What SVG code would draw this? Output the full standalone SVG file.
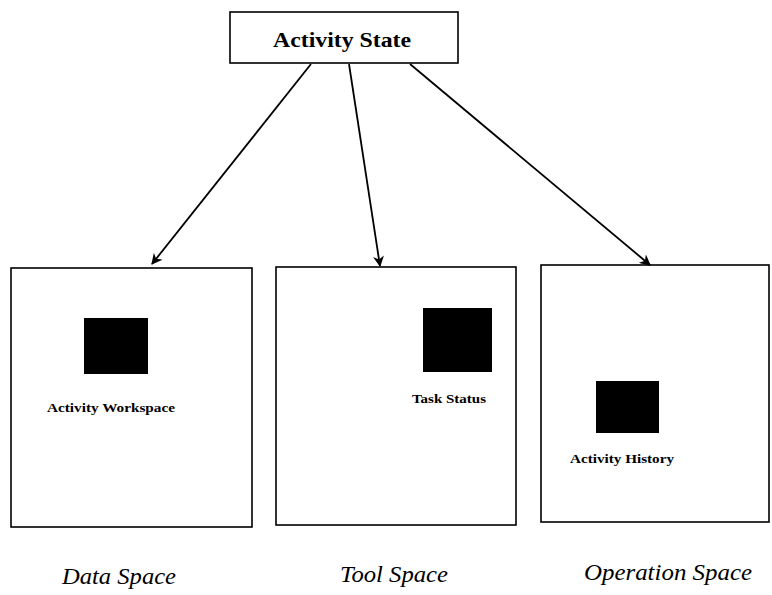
<svg xmlns="http://www.w3.org/2000/svg" width="772" height="595" viewBox="0 0 772 595">
  <style>
    .frame { fill: #fff; stroke: #000; stroke-width: 1.6; }
    .block { fill: #000; }
    .title { font-family: "Liberation Serif", serif; font-weight: bold; font-size: 20px; }
    .item { font-family: "Liberation Serif", serif; font-weight: bold; font-size: 12.5px; }
    .space { font-family: "Liberation Serif", serif; font-style: italic; font-size: 23px; }
    .link { stroke: #000; stroke-width: 1.8; fill: none; marker-end: url(#head); }
  </style>
  <defs>
    <marker id="head" viewBox="0 0 10 10" refX="9" refY="5" markerWidth="11" markerHeight="11" markerUnits="userSpaceOnUse" orient="auto">
      <path d="M0,0 L10,5 L0,10 L3,5 Z" fill="#000"/>
    </marker>
  </defs>
  <rect width="772" height="595" fill="#fff"/>

  <g id="activity-state">
    <rect class="frame" x="230" y="12" width="228" height="51" stroke-width="2.2"/>
    <text class="title" x="273" y="47" textLength="138" lengthAdjust="spacingAndGlyphs">Activity State</text>
  </g>

  <g id="data-space">
    <rect class="frame" x="11" y="268" width="241" height="259"/>
    <rect class="block" x="84" y="318" width="64" height="56"/>
    <text class="item" x="47" y="412" textLength="128" lengthAdjust="spacingAndGlyphs">Activity Workspace</text>
    <text class="space" x="62" y="584" textLength="114" lengthAdjust="spacingAndGlyphs">Data Space</text>
  </g>

  <g id="tool-space">
    <rect class="frame" x="276" y="267" width="240" height="258"/>
    <rect class="block" x="423" y="308" width="69" height="64"/>
    <text class="item" x="412" y="403" textLength="74" lengthAdjust="spacingAndGlyphs">Task Status</text>
    <text class="space" x="340" y="582" textLength="108" lengthAdjust="spacingAndGlyphs">Tool Space</text>
  </g>

  <g id="operation-space">
    <rect class="frame" x="541" y="265" width="228" height="257"/>
    <rect class="block" x="596" y="381" width="63" height="52"/>
    <text class="item" x="570" y="463" textLength="104" lengthAdjust="spacingAndGlyphs">Activity History</text>
    <text class="space" x="584" y="580" textLength="168" lengthAdjust="spacingAndGlyphs">Operation Space</text>
  </g>

  <g id="connectors">
    <line class="link" x1="311" y1="64" x2="152" y2="264"/>
    <line class="link" x1="349" y1="64" x2="380" y2="266"/>
    <line class="link" x1="410" y1="64" x2="650" y2="265"/>
  </g>
</svg>
